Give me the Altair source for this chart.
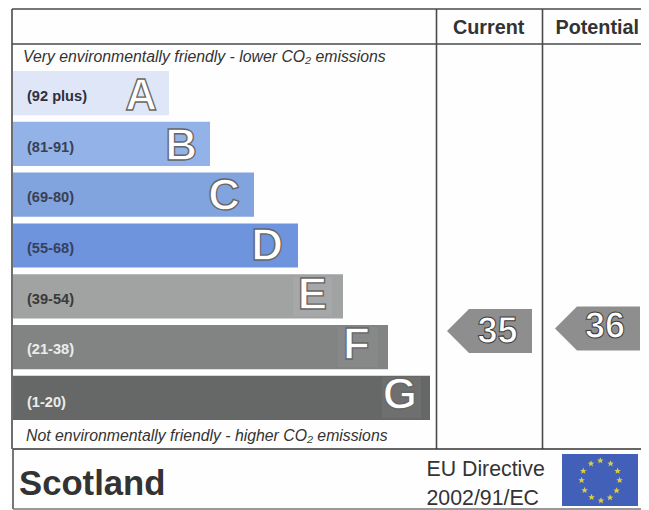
import altair as alt
import pandas as pd

bands = ["A", "B", "C", "D", "E", "F", "G"]
ranges = ["(92 plus)", "(81-91)", "(69-80)", "(55-68)", "(39-54)", "(21-38)", "(1-20)"]
lengths = [156, 197, 241, 285, 330, 375, 417]
bar_colors = ["#dfe6f8", "#93b3e8", "#81a3de", "#6d94dc", "#a1a2a2", "#828483", "#666867"]
range_colors = ["#2f2f3a", "#3a4054", "#3a4054", "#36415e", "#3a3a3a", "#ececec", "#ececec"]
letter_dx = [-12, -13, -14, -15, -16, -18, -13]
label_dy = [1, 2, 2, 3, 5, 5, 8]
current = 35
potential = 36
star_x = [592.3, 602.6, 609.6, 611.6, 608.6, 602, 593, 583.6, 576.6, 573.6, 575.3, 583]
star_y = [452.7, 455.7, 463, 472.3, 482.7, 489.7, 492.7, 489.3, 482.3, 472.3, 463, 455.7]

FONT = "Liberation Sans"
LINE = "#4a4a4a"

df = pd.DataFrame({"band": bands, "range": ranges, "length": lengths})
one = pd.DataFrame({"a": [0]})

y_band = alt.Y(
    "band:N",
    sort=bands,
    axis=None,
    scale=alt.Scale(domain=bands, range=[63, 412], paddingInner=0.13, paddingOuter=0),
)
x_len = alt.X("length:Q", axis=None, scale=alt.Scale(domain=[0, 417], range=[5, 422]))

bars = (
    alt.Chart(df)
    .mark_bar(opacity=1)
    .encode(
        x=x_len,
        y=y_band,
        color=alt.Color("band:N", scale=alt.Scale(domain=bands, range=bar_colors), legend=None),
    )
)

label_layers = []
for b, dy, c in zip(bands, label_dy, range_colors):
    label_layers.append(
        alt.Chart(df[df.band == b])
        .mark_text(font=FONT, fontSize=14.6, fontWeight="bold", align="left", baseline="middle",
                   dy=dy, color=c)
        .encode(x=alt.value(19), y=y_band, text="range:N")
    )

letter_layers = []
for b, d in zip(bands, letter_dx):
    letter_layers.append(
        alt.Chart(df[df.band == b])
        .mark_text(
            font=FONT, fontSize=44, fontWeight="bold", align="right", baseline="middle",
            dx=d, dy=1, fill="#ffffff", stroke="#666666", strokeWidth=1.3,
        )
        .encode(x=x_len, y=y_band, text="band:N")
    )


def box(x1, x2, y1, y2, color):
    return alt.Chart(one).mark_rect(color=color).encode(
        x=alt.value(x1), x2=alt.value(x2), y=alt.value(y1), y2=alt.value(y2)
    )


halos = [
    box(285, 324, 269, 308, "#a6a7a8"),
    box(330, 370, 319, 359, "#878888"),
    box(374, 413, 369, 410, "#6e6f6e"),
]


def hline(x1, x2, y, color=LINE, w=1.6):
    return alt.Chart(one).mark_rule(color=color, strokeWidth=w).encode(
        x=alt.value(x1), x2=alt.value(x2), y=alt.value(y)
    )


def vline(x, y1, y2, color=LINE, w=1.6):
    return alt.Chart(one).mark_rule(color=color, strokeWidth=w).encode(
        x=alt.value(x), y=alt.value(y1), y2=alt.value(y2)
    )


lines = [
    hline(4, 633, 1),
    hline(4, 633, 36),
    vline(4, 1, 441),
    vline(428.5, 1, 441),
    vline(534.5, 1, 441),
    hline(5, 633, 441, color="#333333"),
    vline(5, 441, 501, color="#555555"),
    hline(5, 633, 501, color="#777777"),
]


def txt(s, x, y, size, bold=False, italic=False, color="#333333", align="left"):
    kw = {}
    if bold:
        kw["fontWeight"] = "bold"
    if italic:
        kw["fontStyle"] = "italic"
    return alt.Chart(pd.DataFrame({"t": [s]})).mark_text(
        font=FONT, fontSize=size, align=align, baseline="alphabetic", color=color, **kw
    ).encode(x=alt.value(x), y=alt.value(y), text="t:N")


texts = [
    txt("Very environmentally friendly - lower CO₂ emissions", 15, 54, 15.8, italic=True),
    txt("Not environmentally friendly - higher CO₂ emissions", 18, 433, 15.8, italic=True),
    txt("Current", 445, 25.5, 19.8, bold=True),
    txt("Potential", 547.5, 25.5, 19.8, bold=True),
    txt("Scotland", 11, 487, 34.7, bold=True),
    txt("EU Directive", 418.5, 467.5, 21.3),
    txt("2002/91/EC", 418.5, 496.5, 21.3),
]

ARROW = "M-1,0L-0.482,-0.518L1,-0.518L1,0.518L-0.482,0.518Z"


def arrow(value, cx, cy, tx, ty):
    d = pd.DataFrame({"v": [value]})
    head = alt.Chart(d).mark_point(
        shape=ARROW, filled=True, size=7225, color="#8e8e8e", opacity=1
    ).encode(x=alt.value(cx), y=alt.value(cy))
    num = alt.Chart(d).mark_text(
        font=FONT, fontSize=36, fontWeight="bold", align="center", baseline="alphabetic",
        fill="#ffffff", stroke="#3d3d3d", strokeWidth=1,
    ).encode(x=alt.value(tx), y=alt.value(ty), text="v:Q")
    return [head, num]


flag = box(554, 630, 446, 498, "#4360b8")
stars = (
    alt.Chart(pd.DataFrame({"x": star_x, "y": star_y}))
    .mark_point(
        shape="M0,-1L0.26,-0.32L0.95,-0.31L0.41,0.12L0.59,0.81L0,0.4L-0.59,0.81L-0.41,0.12L-0.95,-0.31L-0.26,-0.32Z",
        filled=True, size=48, color="#d8cf45", opacity=1,
    )
    .encode(x=alt.X("x:Q", scale=None, axis=None), y=alt.Y("y:Q", scale=None, axis=None))
)

chart = alt.layer(
    *lines,
    bars,
    *halos,
    *label_layers,
    *letter_layers,
    *texts,
    *arrow(current, 481.5, 323, 489.5, 334.5),
    *arrow(potential, 589.5, 320.5, 597, 330),
    flag,
    stars,
).resolve_scale(color="independent", y="independent", x="independent").properties(
    width=633, height=502, padding=0, background="#fefefe", autosize=alt.AutoSizeParams(type="none")
).configure_view(stroke=None)

chart.save("out.html", embed_options={"renderer": "svg", "actions": False})
